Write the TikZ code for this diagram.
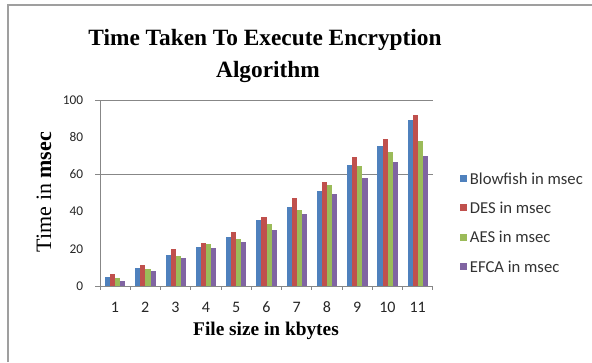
\documentclass[tikz,border=0pt]{standalone}
\usepackage{fontspec}
\setmainfont{Liberation Serif}
\newfontfamily\calfont{Carlito}
\definecolor{blowfish}{HTML}{4F81BD}
\definecolor{des}{HTML}{C0504D}
\definecolor{aes}{HTML}{9BBB59}
\definecolor{efca}{HTML}{8064A2}
\definecolor{axisgray}{HTML}{878787}
\tikzset{
  axisline/.style={draw=axisgray, line width=0.75pt},
  ticklabel/.style={font=\calfont\fontsize{10}{12}\selectfont, text=black!85},
  catlabel/.style={font=\calfont\fontsize{12}{14}\selectfont, text=black!85},
  legendtext/.style={font=\calfont\fontsize{12.5}{14}\selectfont, text=black!80, anchor=west, inner sep=0pt},
}
\begin{document}
\begin{tikzpicture}[x=0.75pt, y=-0.75pt, semithick]
  \useasboundingbox (0,0) rectangle (592,362);
  % chart frame (only top and left edges show)
  \draw[axisgray!80, line width=0.9pt] (8,362) -- (8,5) -- (592,5);

  % title
  \node[font=\bfseries\fontsize{17.5}{21}\selectfont] (title1) at (265,40) {Time Taken To Execute Encryption};
  \node[font=\bfseries\fontsize{17.5}{21}\selectfont] (title2) at (268,72) {Algorithm};

  % axes
  \coordinate (origin) at (100,286);
  \coordinate (ytop) at (100,100);
  \coordinate (xend) at (433,286);
  \draw[axisline] (origin) -- (ytop);
  \draw[axisline] (origin) -- (xend);
  \draw[axisline] (95,100) -- (433,100);
  \draw[axisline] (95,174.4) -- (433,174.4);
  \draw[axisline] (95,286) -- (origin);

  % y tick labels
  \foreach \v in {0,20,...,100}
    \node[ticklabel, anchor=east] (y\v) at (88,{286-\v*1.86}) {\v};

  % x ticks and category labels
  \foreach \k in {0,...,11}
    \draw[axisline] ({100+\k*30.27},286) -- ++(0,4);
  \foreach \i in {1,...,11}
    \node[catlabel] (x\i) at ({115+(\i-1)*30.27},307) {\i};

  % bars
  \foreach \i/\vb/\vr/\vg/\vp in {1/5.0/6.5/4.5/2.9, 2/9.9/11.3/9.3/7.9,
      3/16.8/19.7/15.9/14.9, 4/21.0/22.9/22.4/20.3, 5/26.5/29.2/25.1/23.8,
      6/35.5/36.9/33.3/29.9, 7/42.3/47.1/40.9/38.9, 8/51.3/56.1/54.1/49.3,
      9/65.1/69.2/64.3/58.2, 10/75.4/78.9/71.9/66.5, 11/89.2/91.9/78.1/69.9} {
    \pgfmathsetmacro\xl{100+(\i-1)*30.27+5}
    \fill[blowfish] (\xl,286) rectangle ++(5.1,{-\vb*1.86});
    \fill[des] ({\xl+5.1},286) rectangle ++(5.1,{-\vr*1.86});
    \fill[aes] ({\xl+10.2},286) rectangle ++(5.1,{-\vg*1.86});
    \fill[efca] ({\xl+15.3},286) rectangle ++(5.1,{-\vp*1.86});
  }

  % axis titles
  \node[font=\fontsize{16.5}{20}\selectfont, rotate=90] (ytitle) at (44,192) {Time in \textbf{msec}};
  \node[font=\bfseries\fontsize{14.5}{17}\selectfont] (xtitle) at (266,331) {File size in kbytes};

  % legend
  \foreach \n/\c/\t [count=\j from 0] in {blow/blowfish/Blowfish, des/des/DES, aes/aes/AES, efca/efca/EFCA} {
    \fill[\c] (459.5,{174.8+\j*29.4}) rectangle ++(7,7);
    \node[legendtext] (leg\n) at (469.5,{178.3+\j*29.4}) {\t{} in msec};
  }
\end{tikzpicture}
\end{document}
